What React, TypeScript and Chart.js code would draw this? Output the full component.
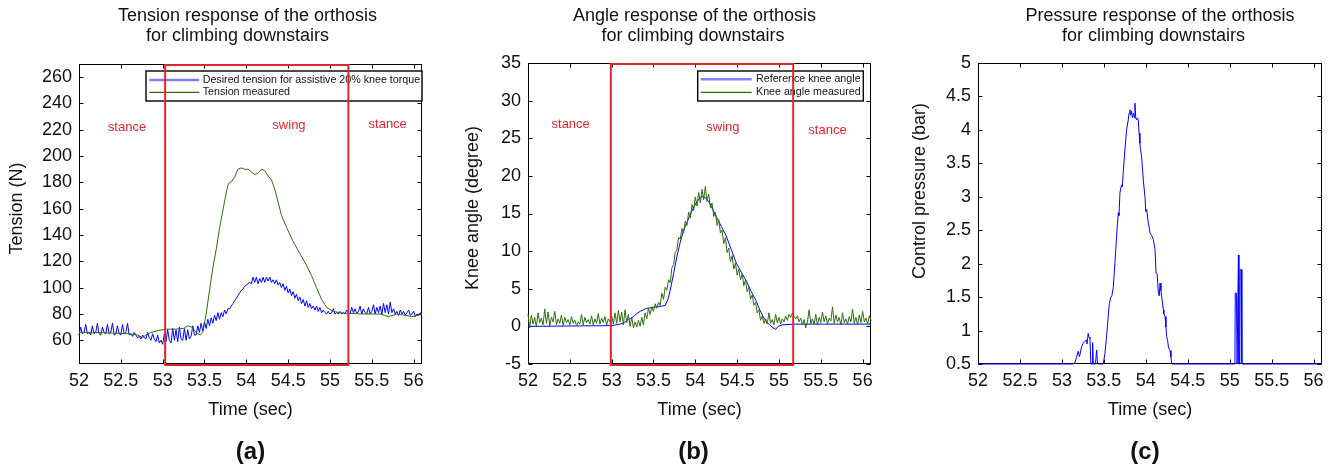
import React, { useEffect, useRef } from 'react';
import { Chart, registerables } from 'chart.js';

Chart.register(...registerables);

const FONT = "'Liberation Sans', Arial, Helvetica, sans-serif";

// ---------- shared sample times (sec) ----------
const TIME = [
  52.00, 52.02, 52.04, 52.06, 52.08, 52.10, 52.12, 52.14, 52.16, 52.18,
  52.20, 52.22, 52.24, 52.26, 52.28, 52.30, 52.32, 52.34, 52.36, 52.38,
  52.40, 52.42, 52.44, 52.46, 52.48, 52.50, 52.52, 52.54, 52.56, 52.58,
  52.60, 52.62, 52.64, 52.66, 52.68, 52.70, 52.72, 52.74, 52.76, 52.78,
  52.80, 52.82, 52.84, 52.86, 52.88, 52.90, 52.92, 52.94, 52.96, 52.98,
  53.00, 53.02, 53.04, 53.06, 53.08, 53.10, 53.12, 53.14, 53.16, 53.18,
  53.20, 53.22, 53.24, 53.26, 53.28, 53.30, 53.32, 53.34, 53.36, 53.38,
  53.40, 53.42, 53.44, 53.46, 53.48, 53.50, 53.52, 53.54, 53.56, 53.58,
  53.60, 53.62, 53.64, 53.66, 53.68, 53.70, 53.72, 53.74, 53.76, 53.78,
  53.80, 53.82, 53.84, 53.86, 53.88, 53.90, 53.92, 53.94, 53.96, 53.98,
  54.00, 54.02, 54.04, 54.06, 54.08, 54.10, 54.12, 54.14, 54.16, 54.18,
  54.20, 54.22, 54.24, 54.26, 54.28, 54.30, 54.32, 54.34, 54.36, 54.38,
  54.40, 54.42, 54.44, 54.46, 54.48, 54.50, 54.52, 54.54, 54.56, 54.58,
  54.60, 54.62, 54.64, 54.66, 54.68, 54.70, 54.72, 54.74, 54.76, 54.78,
  54.80, 54.82, 54.84, 54.86, 54.88, 54.90, 54.92, 54.94, 54.96, 54.98,
  55.00, 55.02, 55.04, 55.06, 55.08, 55.10, 55.12, 55.14, 55.16, 55.18,
  55.20, 55.22, 55.24, 55.26, 55.28, 55.30, 55.32, 55.34, 55.36, 55.38,
  55.40, 55.42, 55.44, 55.46, 55.48, 55.50, 55.52, 55.54, 55.56, 55.58,
  55.60, 55.62, 55.64, 55.66, 55.68, 55.70, 55.72, 55.74, 55.76, 55.78,
  55.80, 55.82, 55.84, 55.86, 55.88, 55.90, 55.92, 55.94, 55.96, 55.98,
  56.00, 56.02, 56.04, 56.06, 56.08, 56.10,
];

// ---------- ticks ----------
const X_TICKS = [52, 52.5, 53, 53.5, 54, 54.5, 55, 55.5, 56];
const Y_TICKS_TENSION = [60, 80, 100, 120, 140, 160, 180, 200, 220, 240, 260];
const Y_TICKS_ANGLE = [-5, 0, 5, 10, 15, 20, 25, 30, 35];
const Y_TICKS_PRESSURE = [0.5, 1, 1.5, 2, 2.5, 3, 3.5, 4, 4.5, 5];

// ---------- (a) tension ----------
const DESIRED_TENSION = [
  64, 70, 65, 66, 72, 65, 66, 64, 71, 65,
  66, 73, 65, 64, 70, 66, 65, 72, 65, 66,
  73, 64, 65, 71, 65, 64, 72, 65, 66, 73,
  64, 65, 63, 66, 64, 62, 63, 61, 64, 62,
  61, 66, 62, 60, 65, 61, 59, 64, 58, 60,
  57, 65, 59, 68, 60, 58, 69, 60, 68, 59,
  70, 61, 60, 69, 60, 68, 61, 63, 71, 64,
  64, 71, 66, 73, 67, 74, 69, 76, 71, 77,
  73, 79, 75, 81, 76, 81, 78, 83, 80, 84,
  84, 86, 88, 90, 92, 94, 96, 98, 99, 101,
  102, 103, 104, 103, 108, 104, 108, 103, 107, 104,
  108, 104, 108, 105, 108, 104, 106, 103, 106, 102,
  104, 100, 103, 98, 101, 96, 99, 94, 97, 92,
  95, 90, 93, 88, 91, 86, 90, 85, 88, 84,
  86, 83, 86, 82, 85, 81, 83, 81, 80, 82,
  80, 81, 84, 80, 81, 80, 82, 80, 81, 80,
  83, 81, 80, 85, 81, 84, 80, 82, 86, 80,
  84, 81, 80, 85, 80, 82, 87, 80, 85, 81,
  86, 80, 88, 81, 87, 80, 89, 81, 84, 80,
  82, 79, 83, 80, 82, 79, 81, 83, 79, 80,
  82, 78, 80, 79, 81, 77,
];

const TENSION_TIME = [
  52.00, 52.20, 52.40, 52.60, 52.70, 52.76, 52.80, 52.86, 52.95, 53.05,
  53.15, 53.25, 53.30, 53.35, 53.40, 53.45, 53.48, 53.52, 53.56, 53.60,
  53.64, 53.68, 53.72, 53.76, 53.78, 53.80, 53.83, 53.86, 53.90, 53.94,
  53.98, 54.02, 54.06, 54.10, 54.14, 54.18, 54.22, 54.26, 54.30, 54.34,
  54.38, 54.42, 54.48, 54.56, 54.64, 54.72, 54.78, 54.84, 54.90, 54.96,
  55.04, 55.12, 55.20, 55.40, 55.60, 55.70, 55.80, 55.90, 56.00, 56.10,
];
const TENSION_MEASURED = [
  66, 66, 65.5, 65, 64, 62, 64, 66, 67.5, 68.5,
  68.5, 69, 71, 70, 66, 64, 66, 80, 98, 115,
  129, 145, 159, 172, 178, 180, 181, 184, 190, 191,
  190, 190, 188, 186, 187, 190, 189, 185, 182, 175,
  165, 155, 146, 135, 126, 117, 109, 100, 91, 85,
  82, 81, 80.5, 80, 80, 78, 80, 79, 78, 80,
];

// ---------- (b) knee angle ----------
const REF_ANGLE_TIME = [
  52.00, 53.00, 53.05, 53.10, 53.15, 53.20, 53.26, 53.30, 53.34, 53.38,
  53.42, 53.48, 53.54, 53.60, 53.64, 53.67, 53.70, 53.74, 53.78, 53.82,
  53.86, 53.90, 53.93, 53.97, 54.01, 54.05, 54.09, 54.13, 54.17, 54.21,
  54.25, 54.31, 54.37, 54.43, 54.49, 54.55, 54.61, 54.67, 54.73, 54.77,
  54.81, 54.85, 54.89, 54.93, 54.96, 54.99, 55.04, 55.20, 56.10,
];
const REF_ANGLE = [
  0, 0.1, 0.2, 0.3, 0.5, 0.9, 1.3, 1.7, 2.0, 2.2,
  2.4, 2.5, 2.6, 2.7, 2.8, 3.5, 4.8, 7.0, 9.3, 11.2,
  12.8, 13.8, 14.6, 15.6, 16.4, 17.0, 17.3, 17.0, 16.4, 15.5,
  14.6, 13.3, 12.0, 10.2, 8.4, 7.2, 6.0, 4.6, 3.3, 2.2,
  1.3, 0.6, 0.2, -0.2, -0.4, 0, 0.2, 0.3, 0.3,
];
const ANGLE_MEASURED = [
  1.6, -0.2, 1.5, 0.3, 1.2, -0.1, 1.8, 0.5, 1.1, 0.2,
  2.3, 0.4, 1.9, 0.1, 1.2, 0.6, 2.0, 0.2, 1.0, 0.4,
  1.5, 0.1, 1.2, 0.5, 0.9, 0.2, 1.3, 0.4, 0.8, 0.1,
  0.6, 0.3, 1.6, 0.2, 1.2, 0.5, 0.9, 0.3, 1.4, 0.2,
  1.0, 0.4, 1.7, 0.3, 1.1, 0.5, 1.3, 0.2, 1.0, 0.6,
  1.4, 0.3, 1.8, 0.4, 2.1, 0.6, 1.9, 0.2, 2.2, 0.5,
  1.6, 0.0, 1.2, -0.2, 0.6, -0.1, 0.8, 0.0, 1.2, 0.2,
  1.8, 1.0, 2.4, 1.6, 2.6, 2.0, 3.0, 2.4, 3.2, 2.8,
  4.4, 3.6, 5.2, 4.8, 6.2, 5.8, 7.8, 8.2, 9.8, 10.2,
  11.8, 11.6, 13.0, 12.4, 14.0, 13.4, 15.2, 14.4, 16.2, 15.4,
  17.2, 16.0, 17.8, 16.4, 18.2, 16.8, 18.6, 16.6, 17.6, 15.8,
  16.4, 14.6, 15.2, 13.4, 14.2, 12.4, 12.8, 11.0, 11.8, 9.8,
  10.4, 8.6, 9.4, 7.6, 8.4, 6.8, 7.6, 6.2, 7.0, 5.4,
  6.2, 4.6, 5.2, 3.6, 4.2, 2.8, 3.2, 1.8, 2.2, 0.8,
  1.4, 0.4, 1.0, 0.3, 1.8, 0.4, 0.9, 0.2, 1.6, 0.5,
  1.2, 0.3, 1.0, 0.6, 1.4, 0.8, 1.6, 1.2, 1.8, 1.3,
  1.0, 1.4, 0.6, 1.1, 0.2, 0.9, -0.2, 0.6, 2.2, 0.4,
  1.0, 0.3, 1.6, 0.2, 1.2, 0.5, 1.9, 0.6, 1.4, 0.3,
  1.1, 0.7, 2.6, 0.4, 1.5, 0.6, 1.2, 0.2, 1.8, 0.5,
  1.0, 0.3, 1.3, 0.6, 2.3, 0.4, 1.2, 0.2, 1.5, 0.5,
  2.0, 0.6, 1.1, 0.3, 1.4, 0.8,
];

// ---------- (c) pressure ----------
const PRESSURE_TIME = [
  52.00, 53.13, 53.155, 53.175, 53.194, 53.21, 53.235, 53.254, 53.275, 53.294,
  53.30, 53.313, 53.325, 53.334, 53.345, 53.36, 53.366, 53.375, 53.40, 53.414,
  53.425, 53.493, 53.513, 53.532, 53.552, 53.565, 53.581, 53.595, 53.612, 53.632,
  53.652, 53.662, 53.672, 53.68, 53.692, 53.70, 53.712, 53.72, 53.732, 53.751,
  53.771, 53.791, 53.80, 53.811, 53.82, 53.83, 53.84, 53.855, 53.865, 53.871,
  53.88, 53.89, 53.90, 53.91, 53.92, 53.93, 53.935, 53.95, 53.97, 53.99,
  54.00, 54.01, 54.03, 54.05, 54.07, 54.09, 54.11, 54.122, 54.135, 54.15,
  54.16, 54.17, 54.18, 54.195, 54.209, 54.215, 54.229, 54.24, 54.249, 54.26,
  54.269, 54.28, 54.289, 54.30, 54.309, 55.062, 55.066, 55.08, 55.088, 55.095,
  55.104, 55.11, 55.12, 55.125, 55.14, 55.145, 56.10,
];
const PRESSURE = [
  0.5, 0.5, 0.52, 0.6, 0.69, 0.61, 0.76, 0.81, 0.84, 0.86,
  0.8, 0.96, 0.89, 0.9, 0.5, 0.5, 0.82, 0.5, 0.5, 0.71,
  0.5, 0.5, 0.66, 0.9, 1.21, 1.4, 1.49, 1.52, 1.64, 2.01,
  2.41, 2.6, 2.76, 2.72, 3.06, 3.12, 3.18, 3.15, 3.38, 3.7,
  4.0, 4.15, 4.25, 4.3, 4.22, 4.28, 4.18, 4.25, 4.18, 4.4,
  4.18, 4.15, 4.18, 4.15, 3.95, 3.8, 3.72, 3.6, 3.25, 3.0,
  2.78, 2.81, 2.61, 2.46, 2.42, 2.36, 2.21, 1.86, 1.85, 1.56,
  1.52, 1.71, 1.6, 1.45, 1.31, 1.25, 1.21, 1.05, 0.91, 0.85,
  0.76, 0.72, 0.7, 0.6, 0.5, 0.5, 1.56, 1.56, 0.5, 0.5,
  2.13, 0.5, 0.5, 1.91, 1.91, 0.5, 0.5,
];

// ---------- annotations ----------
const SWING_A = [53.03, 55.22];
const SWING_B = [52.99, 55.17];
const PHASE_LABELS = ['stance', 'swing', 'stance'];

const BLUE = '#0000ff';
const GREEN = '#2f6e0e';
const RED = '#e0262d';
const TICK_LEN = 4;

const toPoints = (xs: number[], ys: number[]) => xs.map((x, i) => ({ x, y: ys[i] }));

const decor = {
  id: 'decor',
  beforeDatasetsDraw(chart: any) {
    const { ctx, chartArea: ca, scales } = chart;
    const xs = scales.x;
    const ys = scales.y;
    ctx.save();
    const L = Math.round(ca.left) + 0.5;
    const R = Math.round(ca.right) - 0.5;
    const T = Math.round(ca.top) + 0.5;
    const B = Math.round(ca.bottom) - 0.5;
    ctx.strokeStyle = '#000';
    ctx.lineWidth = 1;
    ctx.strokeRect(L, T, R - L, B - T);
    ctx.beginPath();
    xs.ticks.forEach((t: any) => {
      const px = Math.round(xs.getPixelForValue(t.value)) + 0.5;
      ctx.moveTo(px, B); ctx.lineTo(px, B - TICK_LEN);
      ctx.moveTo(px, T); ctx.lineTo(px, T + TICK_LEN);
    });
    ys.ticks.forEach((t: any) => {
      const py = Math.round(ys.getPixelForValue(t.value)) + 0.5;
      ctx.moveTo(L, py); ctx.lineTo(L + TICK_LEN, py);
      ctx.moveTo(R, py); ctx.lineTo(R - TICK_LEN, py);
    });
    ctx.stroke();
    ctx.restore();
  },
  afterDatasetsDraw(chart: any, _a: any, o: any) {
    const { ctx, chartArea: ca, scales } = chart;
    const xs = scales.x;
    const ys = scales.y;
    ctx.save();
    if (o.legend) {
      const L = o.legend;
      const bx = ca.right - L.right - L.w;
      const by = ca.top + L.top;
      ctx.fillStyle = '#fff';
      ctx.fillRect(bx, by, L.w, L.h);
      ctx.strokeStyle = '#000';
      ctx.lineWidth = 1.4;
      ctx.strokeRect(bx, by, L.w, L.h);
      ctx.font = `${L.size}px ${FONT}`;
      ctx.textBaseline = 'middle';
      ctx.textAlign = 'left';
      chart.data.datasets.forEach((ds: any, i: number) => {
        const ry = by + L.rows[i];
        ctx.strokeStyle = ds.borderColor;
        ctx.globalAlpha = L.alpha[i];
        ctx.lineWidth = L.widths[i];
        ctx.beginPath();
        ctx.moveTo(bx + L.lineX[0], ry);
        ctx.lineTo(bx + L.lineX[1], ry);
        ctx.stroke();
        ctx.globalAlpha = 1;
        ctx.fillStyle = '#111';
        ctx.fillText(ds.label, bx + L.textX, ry);
      });
    }
    if (o.swing) {
      const x0 = xs.getPixelForValue(o.swing[0]);
      const x1 = xs.getPixelForValue(o.swing[1]);
      ctx.strokeStyle = RED;
      ctx.lineWidth = 2;
      ctx.strokeRect(x0, ca.top + 1, x1 - x0, ca.bottom - ca.top);
    }
    if (o.phases) {
      ctx.font = `13px ${FONT}`;
      ctx.fillStyle = RED;
      ctx.textAlign = 'center';
      ctx.textBaseline = 'middle';
      o.phases.forEach((p: any, i: number) => {
        ctx.fillText(PHASE_LABELS[i], xs.getPixelForValue(p.t), ys.getPixelForValue(p.v));
      });
    }
    ctx.restore();
  },
  afterDraw(chart: any, _a: any, o: any) {
    const { ctx, chartArea: ca } = chart;
    ctx.save();
    ctx.fillStyle = '#111';
    ctx.font = `18px ${FONT}`;
    ctx.textAlign = 'center';
    ctx.textBaseline = 'alphabetic';
    o.title.lines.forEach((line: string, i: number) => ctx.fillText(line, o.title.x[i], o.title.y[i]));
    const cx = (ca.left + ca.right) / 2;
    ctx.fillText(o.xTitle, cx, o.xTitleY);

    ctx.save();
    ctx.translate(o.yTitle.x, o.yTitle.y);
    ctx.rotate(-Math.PI / 2);
    ctx.textBaseline = 'middle';
    ctx.fillText(o.yTitle.text, 0, 0);
    ctx.restore();

    ctx.font = `bold 24px ${FONT}`;
    ctx.fillText(o.panelLabel, cx + (o.panelLabelDx || 0), o.panelLabelY);
    ctx.restore();
  },
};

type Series = { label: string; t: number[]; v: number[]; color: string; width: number; order: number };
type PanelCfg = {
  id: string;
  left: number;
  width: number;
  padding: { left: number; right: number; top: number; bottom: number };
  yWidth: number;
  yMin: number;
  yMax: number;
  yTicks: number[];
  series: Series[];
  decor: any;
};

const PANELS: PanelCfg[] = [
  {
    id: 'a',
    left: 0,
    width: 447,
    padding: { left: 0, right: 25, top: 64, bottom: 78 },
    yWidth: 79,
    yMin: 42,
    yMax: 270,
    yTicks: Y_TICKS_TENSION,
    series: [
      { label: 'Desired tension for assistive 20% knee torque', t: TIME, v: DESIRED_TENSION, color: BLUE, width: 1, order: 1 },
      { label: 'Tension measured', t: TENSION_TIME, v: TENSION_MEASURED, color: GREEN, width: 1, order: 0 },
    ],
    decor: {
      title: { lines: ['Tension response of the orthosis', 'for climbing downstairs'], x: [247.5, 237.5], y: [21, 41] },
      xTitle: 'Time (sec)',
      xTitleY: 415,
      yTitle: { text: 'Tension (N)', x: 17, y: 208.5 },
      panelLabel: '(a)',
      panelLabelY: 459,
      legend: { w: 276, h: 30, right: 0, top: 7, rows: [9, 21.3], lineX: [3.3, 53.3], textX: 56.7, size: 10.7, widths: [2.5, 1.2], alpha: [0.5, 1] },
      swing: SWING_A,
      phases: [{ t: 52.574, v: 222.1 }, { t: 54.51, v: 223.4 }, { t: 55.69, v: 223.8 }],
    },
  },
  {
    id: 'b',
    left: 447,
    width: 447,
    padding: { left: 0, right: 23, top: 63, bottom: 78 },
    yWidth: 81,
    yMin: -5,
    yMax: 35,
    yTicks: Y_TICKS_ANGLE,
    series: [
      { label: 'Reference knee angle', t: REF_ANGLE_TIME, v: REF_ANGLE, color: BLUE, width: 1, order: 1 },
      { label: 'Knee angle measured', t: TIME, v: ANGLE_MEASURED, color: GREEN, width: 1, order: 0 },
    ],
    decor: {
      title: { lines: ['Angle response of the orthosis', 'for climbing downstairs'], x: [247.5, 246], y: [21, 41] },
      xTitle: 'Time (sec)',
      xTitleY: 415,
      yTitle: { text: 'Knee angle (degree)', x: 26.5, y: 208 },
      panelLabel: '(b)',
      panelLabelDx: -6,
      panelLabelY: 459,
      legend: { w: 165.6, h: 30, right: 7.7, top: 8, rows: [8.3, 21.3], lineX: [3, 54], textX: 58.3, size: 10.7, widths: [2.5, 1.2], alpha: [0.5, 1] },
      swing: SWING_B,
      phases: [{ t: 52.51, v: 26.8 }, { t: 54.33, v: 26.5 }, { t: 55.58, v: 26.1 }],
    },
  },
  {
    id: 'c',
    left: 894,
    width: 446,
    padding: { left: 0, right: 18, top: 63, bottom: 78 },
    yWidth: 84,
    yMin: 0.5,
    yMax: 5,
    yTicks: Y_TICKS_PRESSURE,
    series: [
      { label: 'Control pressure', t: PRESSURE_TIME, v: PRESSURE, color: BLUE, width: 1, order: 0 },
    ],
    decor: {
      title: { lines: ['Pressure response of the orthosis', 'for climbing downstairs'], x: [266, 259.5], y: [21, 41] },
      xTitle: 'Time (sec)',
      xTitleY: 415,
      yTitle: { text: 'Control pressure (bar)', x: 26, y: 191 },
      panelLabel: '(c)',
      panelLabelDx: -5,
      panelLabelY: 459,
    },
  },
];

function buildConfig(p: PanelCfg): any {
  return {
    type: 'line',
    data: {
      datasets: p.series.map((s) => ({
        label: s.label,
        data: toPoints(s.t, s.v),
        borderColor: s.color,
        backgroundColor: s.color,
        borderWidth: s.width,
        pointRadius: 0,
        tension: 0,
        fill: false,
        clip: false,
        order: s.order,
      })),
    },
    options: {
      animation: false,
      responsive: false,
      devicePixelRatio: 1,
      events: [],
      layout: { padding: p.padding },
      plugins: {
        legend: { display: false },
        tooltip: { enabled: false },
        title: { display: false },
        decor: p.decor,
      },
      scales: {
        x: {
          type: 'linear',
          min: 52,
          max: 56.1,
          grid: { display: false, drawTicks: false },
          border: { display: false },
          afterBuildTicks: (s: any) => {
            s.ticks = X_TICKS.map((v) => ({ value: v }));
          },
          afterFit: (s: any) => {
            s.height = 30;
          },
          ticks: {
            autoSkip: false,
            maxRotation: 0,
            minRotation: 0,
            padding: 6,
            color: '#111',
            font: { family: FONT, size: 18 },
            callback: (v: any) => String(v),
          },
        },
        y: {
          type: 'linear',
          min: p.yMin,
          max: p.yMax,
          grid: { display: false, drawTicks: false },
          border: { display: false },
          afterBuildTicks: (s: any) => {
            s.ticks = p.yTicks.map((v) => ({ value: v }));
          },
          afterFit: (s: any) => {
            s.width = p.yWidth;
          },
          ticks: {
            autoSkip: false,
            padding: 7,
            color: '#111',
            font: { family: FONT, size: 18 },
            callback: (v: any) => String(v),
          },
        },
      },
    },
    plugins: [decor],
  };
}

function Panel({ cfg }: { cfg: PanelCfg }) {
  const ref = useRef<HTMLCanvasElement>(null);
  useEffect(() => {
    const chart = new Chart(ref.current as HTMLCanvasElement, buildConfig(cfg));
    return () => chart.destroy();
  }, [cfg]);
  return (
    <div style={{ position: 'absolute', left: cfg.left, top: 0, width: cfg.width, height: 472 }}>
      <canvas ref={ref} width={cfg.width} height={472} style={{ display: 'block' }} />
    </div>
  );
}

export default function App() {
  return (
    <div style={{ position: 'absolute', left: 0, top: 0, width: 1340, height: 472, background: '#fff', overflow: 'hidden' }}>
      {PANELS.map((p) => (
        <Panel key={p.id} cfg={p} />
      ))}
    </div>
  );
}
